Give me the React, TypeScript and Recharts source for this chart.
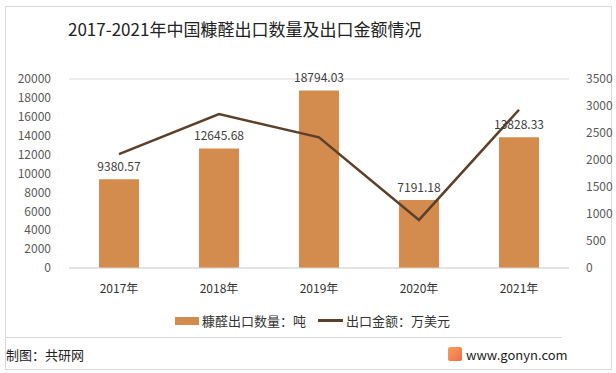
import { ComposedChart, Bar, Line, XAxis, YAxis, CartesianGrid, LabelList } from 'recharts';

const years = ['2017年', '2018年', '2019年', '2020年', '2021年'];
const exportVolume = [9380.57, 12645.68, 18794.03, 7191.18, 13828.33];
const exportValue = [2110, 2850, 2420, 890, 2930];
const leftTicks = [0, 2000, 4000, 6000, 8000, 10000, 12000, 14000, 16000, 18000, 20000];
const rightTicks = [0, 500, 1000, 1500, 2000, 2500, 3000, 3500];

const data = years.map((name, i) => ({ name, volume: exportVolume[i], value: exportValue[i] }));

const FONT = '"Noto Sans CJK SC", "Noto Sans", sans-serif';
const BAR = '#D48B4E';
const LINE = '#5C4029';

export default function App() {
  return (
    <div style={{ position: 'absolute', left: 0, top: 0, width: 616, height: 373, background: '#fff', fontFamily: FONT }}>
      <div style={{ position: 'absolute', left: 5, top: 6, width: 605, height: 362, border: '1px solid #d9d9d9' }} />
      <div style={{ position: 'absolute', left: 68, top: 16, fontSize: 17, color: '#222', whiteSpace: 'nowrap' }}>
        2017-2021年中国糠醛出口数量及出口金额情况
      </div>
      <div style={{ position: 'absolute', left: 0, top: 0 }}>
        <ComposedChart width={616} height={300} data={data} margin={{ top: 79, right: 0, bottom: 0, left: 0 }} barSize={40}>
          <CartesianGrid vertical={false} stroke="#d9d9d9" />
          <XAxis dataKey="name" height={32} tickSize={0} tickMargin={16} axisLine={{ stroke: '#d9d9d9' }}
            tick={{ fill: '#333', fontSize: 12, fontFamily: FONT }} />
          <YAxis yAxisId="left" width={69} domain={[0, 20000]} ticks={leftTicks} axisLine={false} tickLine={false}
            tickMargin={12} tick={{ fill: '#595959', fontSize: 12, fontFamily: FONT }} interval={0} />
          <YAxis yAxisId="right" orientation="right" width={47} domain={[0, 3500]} ticks={rightTicks} axisLine={false}
            tickLine={false} tickMargin={11} tick={{ fill: '#595959', fontSize: 12, fontFamily: FONT, textAnchor: 'start' }} interval={0} />
          <Bar yAxisId="left" dataKey="volume" fill={BAR} isAnimationActive={false}>
            <LabelList dataKey="volume" position="top" offset={8} fill="#404040" fontSize={12} fontFamily={FONT}
              formatter={(v: number) => v.toFixed(2)} />
          </Bar>
          <Line yAxisId="right" dataKey="value" stroke={LINE} strokeWidth={2.5} dot={false} type="linear" isAnimationActive={false} />
        </ComposedChart>
      </div>
      <div style={{ position: 'absolute', left: 175, top: 311, display: 'flex', alignItems: 'center', fontSize: 13, color: '#333', whiteSpace: 'nowrap' }}>
        <span style={{ display: 'inline-block', width: 24, height: 8, background: BAR, marginRight: 3 }} />
        <span>糠醛出口数量：吨</span>
        <span style={{ display: 'inline-block', width: 25, height: 3, background: LINE, marginLeft: 12, marginRight: 3 }} />
        <span>出口金额：万美元</span>
      </div>
      <div style={{ position: 'absolute', left: 5, top: 337, width: 557, height: 1, background: '#d9d9d9' }} />
      <div style={{ position: 'absolute', left: 6, top: 345, fontSize: 13, color: '#222' }}>制图：共研网</div>
      <div style={{ position: 'absolute', left: 448, top: 347, width: 14, height: 14, background: 'linear-gradient(135deg,#f7a25c,#f06b4b)', borderRadius: 2 }} />
      <div style={{ position: 'absolute', left: 466, top: 345, fontSize: 13, color: '#222' }}>www.gonyn.com</div>
    </div>
  );
}
